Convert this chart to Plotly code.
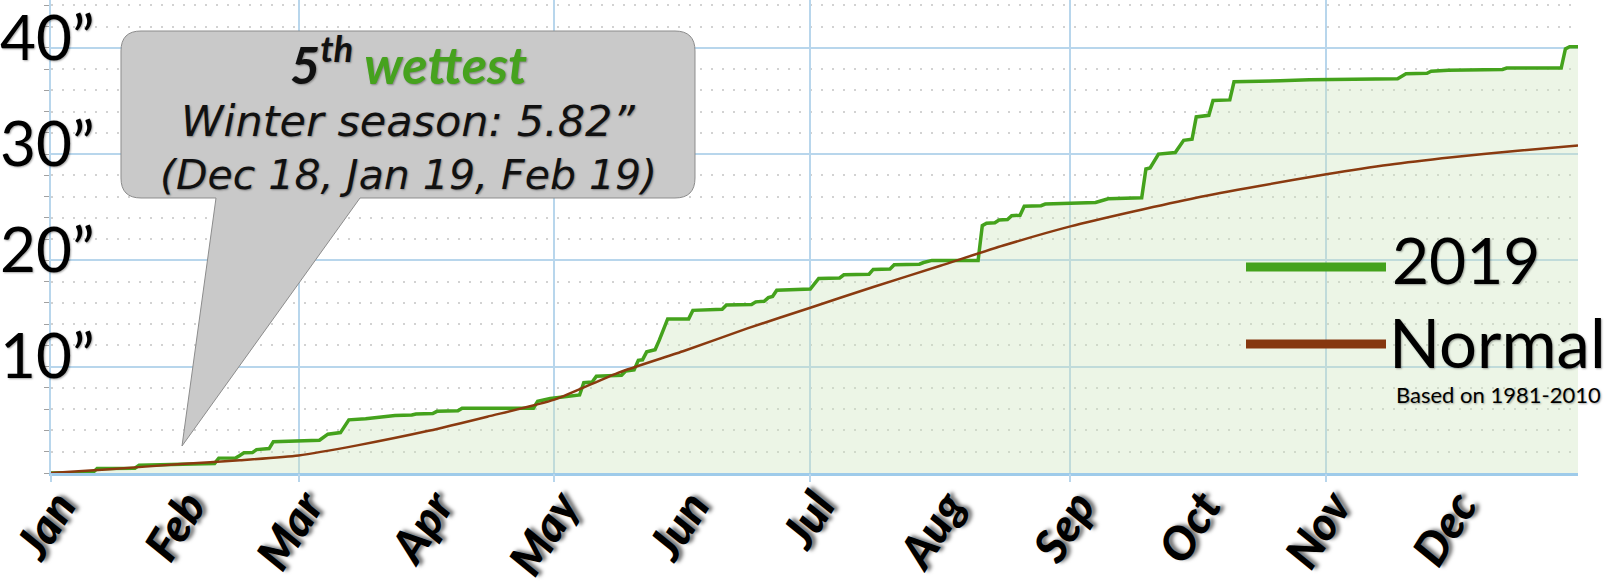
import plotly.graph_objects as go

# ---------------- data ----------------
rain_dates = [
    "2019-01-01", "2019-01-11", "2019-01-12", "2019-01-21", "2019-01-22", "2019-01-31",
    "2019-02-09", "2019-02-10", "2019-02-14", "2019-02-15", "2019-02-16", "2019-02-18",
    "2019-02-19", "2019-02-22", "2019-02-23", "2019-03-06", "2019-03-08", "2019-03-11",
    "2019-03-13", "2019-03-17", "2019-03-23", "2019-03-24", "2019-03-28", "2019-03-29",
    "2019-04-02", "2019-04-03", "2019-04-08", "2019-04-09", "2019-04-26", "2019-04-27",
    "2019-04-30", "2019-05-07", "2019-05-08", "2019-05-10", "2019-05-11", "2019-05-17",
    "2019-05-18", "2019-05-20", "2019-05-21", "2019-05-22", "2019-05-23", "2019-05-25",
    "2019-05-26", "2019-05-28", "2019-06-02", "2019-06-03", "2019-06-10", "2019-06-11",
    "2019-06-17", "2019-06-18", "2019-06-20", "2019-06-21", "2019-06-22", "2019-06-23",
    "2019-07-01", "2019-07-03", "2019-07-08", "2019-07-09", "2019-07-15", "2019-07-16",
    "2019-07-20", "2019-07-21", "2019-07-27", "2019-07-28", "2019-07-30", "2019-08-10",
    "2019-08-11", "2019-08-12", "2019-08-14", "2019-08-15", "2019-08-17", "2019-08-18",
    "2019-08-20", "2019-08-21", "2019-08-25", "2019-08-26", "2019-09-07", "2019-09-10",
    "2019-09-18", "2019-09-19", "2019-09-20", "2019-09-22", "2019-09-26", "2019-09-28",
    "2019-09-30", "2019-10-01", "2019-10-04", "2019-10-05", "2019-10-09", "2019-10-10",
    "2019-10-21", "2019-10-28", "2019-11-18", "2019-11-20", "2019-11-25", "2019-11-26",
    "2019-11-30", "2019-12-13", "2019-12-14", "2019-12-27", "2019-12-28", "2019-12-29",
    "2019-12-31",
]
rain_values = [
    0.0, 0.05, 0.42, 0.45, 0.72, 0.8,
    0.9, 1.4, 1.42, 1.65, 1.9, 1.92,
    2.2, 2.3, 2.95, 3.08, 3.65, 3.8,
    5.0, 5.1, 5.3, 5.4, 5.45, 5.55,
    5.6, 5.8, 5.85, 6.1, 6.1, 6.75,
    7.0, 7.34, 8.5, 8.55, 9.1, 9.2,
    9.6, 9.7, 10.6, 10.65, 11.4, 11.6,
    12.5, 14.5, 14.5, 15.3, 15.4, 15.8,
    15.85, 16.1, 16.15, 16.5, 16.6, 17.2,
    17.3, 18.3, 18.35, 18.65, 18.7, 19.15,
    19.2, 19.6, 19.65, 19.8, 20.0, 20.0,
    23.27, 23.5, 23.55, 23.8, 23.85, 24.2,
    24.25, 25.1, 25.15, 25.3, 25.45, 25.8,
    25.9, 28.6, 28.7, 30.0, 30.15, 31.3,
    31.4, 33.5, 33.65, 35.05, 35.1, 36.8,
    36.9, 37.0, 37.1, 37.56, 37.6, 37.8,
    37.9, 37.97, 38.1, 38.1, 39.9, 40.1,
    40.1,
]

normal_dates = [
    "2019-01-01", "2019-01-15", "2019-02-01", "2019-02-15", "2019-03-01", "2019-03-15",
    "2019-04-01", "2019-04-15", "2019-05-01", "2019-05-16", "2019-06-01", "2019-06-16",
    "2019-07-01", "2019-07-16", "2019-08-01", "2019-08-16", "2019-09-01", "2019-09-16",
    "2019-10-01", "2019-10-16", "2019-11-01", "2019-11-16", "2019-12-01", "2019-12-16",
    "2019-12-31",
]
normal_values = [
    0.0, 0.35, 0.85, 1.2, 1.65, 2.6,
    3.97, 5.3, 6.9, 9.4, 11.5, 13.6,
    15.55, 17.5, 19.5, 21.4, 23.2, 24.6,
    25.9, 27.0, 28.1, 29.0, 29.7, 30.3,
    30.8,
]

month_ticks = ["2019-%02d-01" % m for m in range(1, 13)]
month_labels = ["Jan", "Feb", "Mar", "Apr", "May", "Jun",
                "Jul", "Aug", "Sep", "Oct", "Nov", "Dec"]
y_tick_vals = [10, 20, 30, 40]
y_tick_labels = ["10\u201d", "20\u201d", "30\u201d", "40\u201d"]

series_names = ["2019", "Normal"]
callout_lines = [
    "<b><i>5<sup>th</sup> <span style='color:#46a21e'>wettest</span></i></b>",
    "<i>Winter season: 5.82\u201d</i>",
    "<i>(Dec 18, Jan 19, Feb 19)</i>",
]
legend_note = "Based on 1981-2010"

# ---------------- geometry helpers ----------------
W, H = 1607, 582
ML, MR, MT, MB = 51, 29, 0, 109
PW = W - ML - MR
PH = H - MT - MB


def px(x):
    return (x - ML) / PW


def py(y):
    return (H - MB - y) / PH


GREEN = "#44a21c"
BROWN = "#8a3a10"
GRID = "#b8d6ec"
FONT = "Lato"
WIDE = "DejaVu Sans"

fig = go.Figure()
fig.add_trace(go.Scatter(
    x=rain_dates, y=rain_values, mode="lines", name=series_names[0],
    line=dict(color=GREEN, width=3.5), fill="tozeroy",
    fillcolor="rgba(205,228,188,0.38)", showlegend=False, hoverinfo="skip"))
fig.add_trace(go.Scatter(
    x=normal_dates, y=normal_values, mode="lines", name=series_names[1],
    xaxis="x2",
    line=dict(color=BROWN, width=2.5, shape="spline", smoothing=0.6),
    showlegend=False, hoverinfo="skip"))

xr = ["2019-01-01", "2019-12-31"]

# callout bubble (paper coordinates built from pixel geometry)
L, R, T, B, r = 121, 695, 31, 198, 20
t1, t2, tip = 216, 360, (182, 446)
pts = [
    ("M", [(L + r, T)]), ("L", [(R - r, T)]), ("Q", [(R, T), (R, T + r)]),
    ("L", [(R, B - r)]), ("Q", [(R, B), (R - r, B)]), ("L", [(t2, B)]),
    ("L", [tip]), ("L", [(t1, B)]), ("L", [(L + r, B)]),
    ("Q", [(L, B), (L, B - r)]), ("L", [(L, T + r)]), ("Q", [(L, T), (L + r, T)]),
]
path = ""
for cmd, ps in pts:
    path += cmd + " ".join("%.5f,%.5f" % (px(a), py(b)) for a, b in ps) + " "
path += "Z"

shapes = [
    dict(type="path", xref="paper", yref="paper", path=path,
         fillcolor="#c9c9c9", line=dict(color="#8c8c8c", width=1), layer="above"),
    dict(type="line", xref="paper", yref="paper", x0=px(1246), x1=px(1386),
         y0=py(267), y1=py(267), line=dict(color=GREEN, width=9)),
    dict(type="line", xref="paper", yref="paper", x0=px(1246), x1=px(1386),
         y0=py(344), y1=py(344), line=dict(color="#86370f", width=9)),
]

txt_shadow = "1px 1px 2px rgba(0,0,0,0.35)"
annotations = [
    dict(xref="paper", yref="paper", x=px(408), y=py(60), text=callout_lines[0],
         showarrow=False, xanchor="center", yanchor="middle",
         font=dict(family=FONT, size=52, color="#111", weight=900,
                   shadow=txt_shadow)),
    dict(xref="paper", yref="paper", x=px(408), y=py(121), text=callout_lines[1],
         showarrow=False, xanchor="center", yanchor="middle",
         font=dict(family=WIDE, size=43, color="#111", shadow=txt_shadow)),
    dict(xref="paper", yref="paper", x=px(408), y=py(175), text=callout_lines[2],
         showarrow=False, xanchor="center", yanchor="middle",
         font=dict(family=WIDE, size=41, color="#111", shadow=txt_shadow)),
    dict(xref="paper", yref="paper", x=px(1390), y=py(259), text=series_names[0],
         showarrow=False, xanchor="left", yanchor="middle",
         font=dict(family=FONT, size=64, color="#000", shadow=txt_shadow)),
    dict(xref="paper", yref="paper", x=px(1387), y=py(342), text=series_names[1],
         showarrow=False, xanchor="left", yanchor="middle",
         font=dict(family=FONT, size=67, color="#000", shadow=txt_shadow)),
    dict(xref="paper", yref="paper", x=px(1394), y=py(394), text=legend_note,
         showarrow=False, xanchor="left", yanchor="middle",
         font=dict(family=FONT, size=22, color="#000", shadow=txt_shadow)),
]

fig.update_layout(
    width=W, height=H,
    margin=dict(l=ML, r=MR, t=MT, b=MB, pad=0, autoexpand=False),
    paper_bgcolor="white", plot_bgcolor="white",
    showlegend=False,
    shapes=shapes, annotations=annotations,
    xaxis=dict(
        type="date", range=xr, tickmode="array", tickvals=month_ticks,
        ticktext=month_labels, tickangle=-58, showgrid=False, zeroline=False,
        showline=True, linecolor="#9ecbea", linewidth=2.5, ticks="",
        automargin=False, ticklabelstandoff=-15, ticklabelshift=7,
        ticklabeloverflow="allow",
        tickfont=dict(family=FONT, size=46, color="#000", weight=900,
                      style="italic", shadow="3px 3px 4px rgba(0,0,0,0.55)"),
    ),
    xaxis2=dict(
        type="date", range=xr, overlaying="x", anchor="y", side="bottom",
        tick0="2019-01-01", dtick="M2", showgrid=True, gridcolor=GRID,
        gridwidth=2, showticklabels=False, ticks="outside", ticklen=8,
        tickcolor=GRID, tickwidth=2, zeroline=False, showline=False,
        automargin=False,
    ),
    yaxis=dict(
        range=[0, 44.5], tickmode="array", tickvals=y_tick_vals,
        ticktext=y_tick_labels, showgrid=True, gridcolor=GRID, gridwidth=2,
        zeroline=False, showline=True, linecolor=GRID, linewidth=2,
        ticks="outside", ticklen=5, tickcolor="#a0a0a0",
        ticklabelstandoff=-63, ticklabelshift=-10, automargin=False,
        ticklabeloverflow="allow",
        minor=dict(dtick=2, tick0=0, showgrid=True, gridcolor="#d2d2d2",
                   griddash="2px,9px", gridwidth=1.5, ticks="outside", ticklen=5,
                   tickcolor="#a0a0a0"),
        tickfont=dict(family=FONT, size=62, color="#000", shadow=txt_shadow),
    ),
)

fig.write_html(
    "out.html",
    config={"displayModeBar": False},
    post_script="document.body.style.margin='0';"
                "document.body.style.overflow='hidden';",
)
